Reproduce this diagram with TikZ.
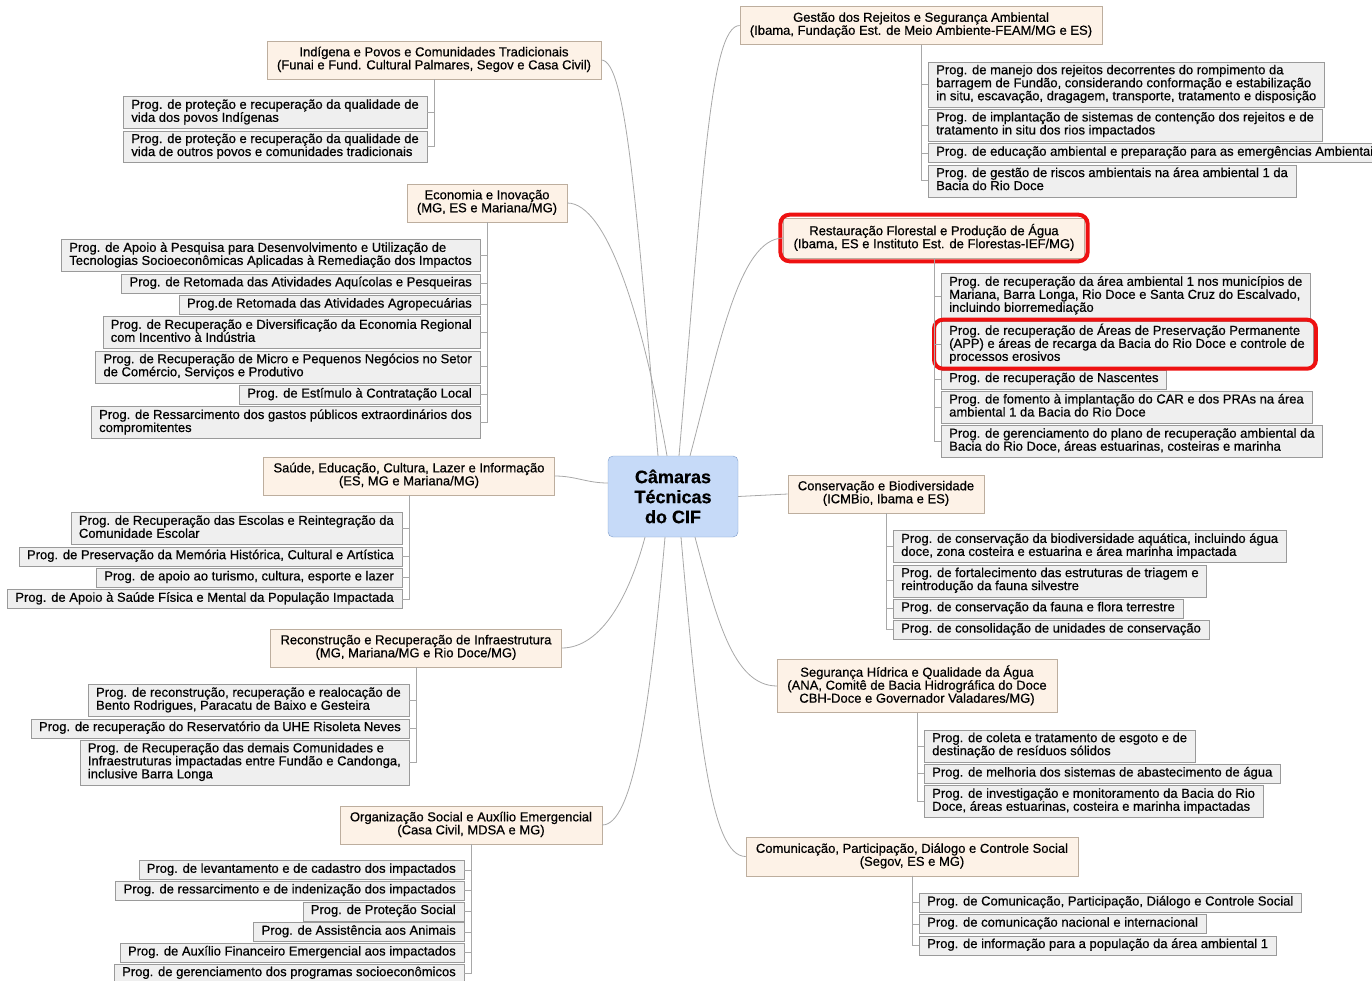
\documentclass[tikz,border=0pt]{standalone}
\usepackage{fontspec}
\setmainfont{Liberation Sans}[FakeBold=0.6]
\usepackage{tikz}
\usetikzlibrary{positioning,fit}

\definecolor{cifblue}{HTML}{C6DAF8}
\definecolor{cifedge}{HTML}{7E9CC9}
\definecolor{catfill}{HTML}{FDF2E7}
\definecolor{catedge}{HTML}{BDAE9E}
\definecolor{leaffill}{HTML}{EFEFEF}
\definecolor{leafedge}{HTML}{9A9A9A}
\definecolor{linkgray}{HTML}{A8A8A8}
\definecolor{markred}{HTML}{EE1111}
\setlength{\lineskiplimit}{-8pt}

\begin{document}
\begin{tikzpicture}[
  x=1pt, y=1pt,
  font=\fontsize{13}{13}\selectfont,
  cif/.style={draw=cifedge, fill=cifblue, rounded corners=5pt, minimum width=130pt,
    minimum height=81pt, align=center, font=\fontsize{18}{20}\selectfont\bfseries},
  cat/.style={draw=catedge, fill=catfill, align=center, inner xsep=10pt, inner ysep=6pt,
    execute at begin node=\strut, execute at end node=\strut},
  leaf/.style={draw=leafedge, fill=leaffill, align=left, inner xsep=8pt, inner ysep=2.75pt,
    execute at begin node=\strut, execute at end node=\strut},
  lfirst/.style={leaf, below=17pt of #1.south, xshift=-7pt, anchor=north east},
  lnext/.style={leaf, below=2pt of #1.south east, anchor=north east},
  rfirst/.style={leaf, below=17pt of #1.south, xshift=7pt, anchor=north west},
  rnext/.style={leaf, below=2pt of #1.south west, anchor=north west},
  link/.style={draw=linkgray, line width=0.8pt},
  branch/.style={draw=linkgray, line width=0.8pt},
  hilite/.style={draw=markred, line width=4pt, rounded corners=9pt, inner sep=3pt}
]
\useasboundingbox (0,0) rectangle (1372,-980);

\node[cif] (cif) at (673,-496.5) {Câmaras\\Técnicas\\do CIF};

\node[cat] (indig) at (434,-60) {Indígena e Povos e Comunidades Tradicionais\\(Funai e Fund. Cultural Palmares, Segov e Casa Civil)};
\node[cat] (econ) at (487,-203) {Economia e Inovação\\(MG, ES e Mariana/MG)};
\node[cat] (saude) at (409,-476) {Saúde, Educação, Cultura, Lazer e Informação\\(ES, MG e Mariana/MG)};
\node[cat] (recon) at (416,-648) {Reconstrução e Recuperação de Infraestrutura\\(MG, Mariana/MG e Rio Doce/MG)};
\node[cat] (org) at (471,-825) {Organização Social e Auxílio Emergencial\\(Casa Civil, MDSA e MG)};
\node[cat] (gestao) at (921,-25.5) {Gestão dos Rejeitos e Segurança Ambiental\\(Ibama, Fundação Est. de Meio Ambiente-FEAM/MG e ES)};
\node[cat] (rest) at (934,-238) {Restauração Florestal e Produção de Água\\(Ibama, ES e Instituto Est. de Florestas-IEF/MG)};
\node[cat] (cons) at (886,-494) {Conservação e Biodiversidade\\(ICMBio, Ibama e ES)};
\node[cat] (seg) at (917,-686) {Segurança Hídrica e Qualidade da Água\\(ANA, Comitê de Bacia Hidrográfica do Doce\\CBH-Doce e Governador Valadares/MG)};
\node[cat] (com) at (912,-856.5) {Comunicação, Participação, Diálogo e Controle Social\\(Segov, ES e MG)};

\node[lfirst=indig] (indig1) {Prog. de proteção e recuperação da qualidade de\\vida dos povos Indígenas};
\node[lnext=indig1] (indig2) {Prog. de proteção e recuperação da qualidade de\\vida de outros povos e comunidades tradicionais};

\node[lfirst=econ] (econ1) {Prog. de Apoio à Pesquisa para Desenvolvimento e Utilização de\\Tecnologias Socioeconômicas Aplicadas à Remediação dos Impactos};
\node[lnext=econ1] (econ2) {Prog. de Retomada das Atividades Aquícolas e Pesqueiras};
\node[lnext=econ2] (econ3) {Prog.de Retomada das Atividades Agropecuárias};
\node[lnext=econ3] (econ4) {Prog. de Recuperação e Diversificação da Economia Regional\\com Incentivo à Indústria};
\node[lnext=econ4] (econ5) {Prog. de Recuperação de Micro e Pequenos Negócios no Setor\\de Comércio, Serviços e Produtivo};
\node[lnext=econ5] (econ6) {Prog. de Estímulo à Contratação Local};
\node[lnext=econ6] (econ7) {Prog. de Ressarcimento dos gastos públicos extraordinários dos\\compromitentes};

\node[lfirst=saude] (saude1) {Prog. de Recuperação das Escolas e Reintegração da\\Comunidade Escolar};
\node[lnext=saude1] (saude2) {Prog. de Preservação da Memória Histórica, Cultural e Artística};
\node[lnext=saude2] (saude3) {Prog. de apoio ao turismo, cultura, esporte e lazer};
\node[lnext=saude3] (saude4) {Prog. de Apoio à Saúde Física e Mental da População Impactada};

\node[lfirst=recon] (recon1) {Prog. de reconstrução, recuperação e realocação de\\Bento Rodrigues, Paracatu de Baixo e Gesteira};
\node[lnext=recon1] (recon2) {Prog. de recuperação do Reservatório da UHE Risoleta Neves};
\node[lnext=recon2] (recon3) {Prog. de Recuperação das demais Comunidades e\\Infraestruturas impactadas entre Fundão e Candonga,\\inclusive Barra Longa};

\node[lfirst=org, yshift=1pt] (org1) {Prog. de levantamento e de cadastro dos impactados};
\node[lnext=org1, yshift=0.6pt] (org2) {Prog. de ressarcimento e de indenização dos impactados};
\node[lnext=org2, yshift=0.6pt] (org3) {Prog. de Proteção Social};
\node[lnext=org3, yshift=0.6pt] (org4) {Prog. de Assistência aos Animais};
\node[lnext=org4, yshift=0.6pt] (org5) {Prog. de Auxílio Financeiro Emergencial aos impactados};
\node[lnext=org5, yshift=0.6pt] (org6) {Prog. de gerenciamento dos programas socioeconômicos};

\node[rfirst=gestao] (gestao1) {Prog. de manejo dos rejeitos decorrentes do rompimento da\\barragem de Fundão, considerando conformação e estabilização\\in situ, escavação, dragagem, transporte, tratamento e disposição};
\node[rnext=gestao1] (gestao2) {Prog. de implantação de sistemas de contenção dos rejeitos e de\\tratamento in situ dos rios impactados};
\node[rnext=gestao2] (gestao3) {Prog. de educação ambiental e preparação para as emergências Ambientais};
\node[rnext=gestao3] (gestao4) {Prog. de gestão de riscos ambientais na área ambiental 1 da\\Bacia do Rio Doce};

\node[rfirst=rest, yshift=2pt] (rest1) {Prog. de recuperação da área ambiental 1 nos municípios de\\Mariana, Barra Longa, Rio Doce e Santa Cruz do Escalvado,\\incluindo biorremediação};
\node[rnext=rest1] (rest2) {Prog. de recuperação de Áreas de Preservação Permanente\\(APP) e áreas de recarga da Bacia do Rio Doce e controle de\\processos erosivos};
\node[rnext=rest2] (rest3) {Prog. de recuperação de Nascentes};
\node[rnext=rest3] (rest4) {Prog. de fomento à implantação do CAR e dos PRAs na área\\ambiental 1 da Bacia do Rio Doce};
\node[rnext=rest4] (rest5) {Prog. de gerenciamento do plano de recuperação ambiental da\\Bacia do Rio Doce, áreas estuarinas, costeiras e marinha};

\node[rfirst=cons] (cons1) {Prog. de conservação da biodiversidade aquática, incluindo água\\doce, zona costeira e estuarina e área marinha impactada};
\node[rnext=cons1] (cons2) {Prog. de fortalecimento das estruturas de triagem e\\reintrodução da fauna silvestre};
\node[rnext=cons2] (cons3) {Prog. de conservação da fauna e flora terrestre};
\node[rnext=cons3] (cons4) {Prog. de consolidação de unidades de conservação};

\node[rfirst=seg] (seg1) {Prog. de coleta e tratamento de esgoto e de\\destinação de resíduos sólidos};
\node[rnext=seg1] (seg2) {Prog. de melhoria dos sistemas de abastecimento de água};
\node[rnext=seg2] (seg3) {Prog. de investigação e monitoramento da Bacia do Rio\\Doce, áreas estuarinas, costeira e marinha impactadas};

\node[rfirst=com] (com1) {Prog. de Comunicação, Participação, Diálogo e Controle Social};
\node[rnext=com1] (com2) {Prog. de comunicação nacional e internacional};
\node[rnext=com2] (com3) {Prog. de informação para a população da área ambiental 1};

\node[hilite, fit=(rest)] (resthl) {};
\node[hilite, fit=(rest2), inner xsep=5pt, inner ysep=1pt, xshift=-2pt] (rest2hl) {};

\draw[link] ([xshift=-15pt]cif.north) to[out=95, in=0, out distance=250pt, in distance=25pt] (indig.east);
\draw[link] ([xshift=-6pt]cif.north) to[out=100, in=0, out distance=140pt, in distance=40pt] (econ.east);
\draw[link] ([xshift=6pt]cif.north) to[out=85, in=180, out distance=270pt, in distance=30pt] (gestao.west);
\draw[link] ([xshift=17pt]cif.north) to[out=75, in=180, out distance=110pt, in distance=45pt] (rest.west);
\draw[link] ([yshift=13.5pt]cif.west) to[out=180, in=0] (saude.east);
\draw[link] (cif.east) -- (cons.west);
\draw[link] ([xshift=-28pt]cif.south) to[out=-105, in=0, out distance=60pt, in distance=40pt] (recon.east);
\draw[link] ([xshift=-8pt]cif.south) to[out=-95, in=0, out distance=180pt, in distance=30pt] (org.east);
\draw[link] ([xshift=8pt]cif.south) to[out=-85, in=180, out distance=200pt, in distance=35pt] (com.west);
\draw[link] ([xshift=22pt]cif.south) to[out=-75, in=180, out distance=80pt, in distance=45pt] (seg.west);

\draw[branch] (indig.south) |- (indig1.east);
\draw[branch] (indig.south) |- (indig2.east);
\draw[branch] (econ.south) |- (econ1.east);
\draw[branch] (econ.south) |- (econ2.east);
\draw[branch] (econ.south) |- (econ3.east);
\draw[branch] (econ.south) |- (econ4.east);
\draw[branch] (econ.south) |- (econ5.east);
\draw[branch] (econ.south) |- (econ6.east);
\draw[branch] (econ.south) |- (econ7.east);
\draw[branch] (saude.south) |- (saude1.east);
\draw[branch] (saude.south) |- (saude2.east);
\draw[branch] (saude.south) |- (saude3.east);
\draw[branch] (saude.south) |- (saude4.east);
\draw[branch] (recon.south) |- (recon1.east);
\draw[branch] (recon.south) |- (recon2.east);
\draw[branch] (recon.south) |- (recon3.east);
\draw[branch] (org.south) |- (org1.east);
\draw[branch] (org.south) |- (org2.east);
\draw[branch] (org.south) |- (org3.east);
\draw[branch] (org.south) |- (org4.east);
\draw[branch] (org.south) |- (org5.east);
\draw[branch] (org.south) |- (org6.east);
\draw[branch] (gestao.south) |- (gestao1.west);
\draw[branch] (gestao.south) |- (gestao2.west);
\draw[branch] (gestao.south) |- (gestao3.west);
\draw[branch] (gestao.south) |- (gestao4.west);
\draw[branch] (rest.south) |- (rest1.west);
\draw[branch] (rest.south) |- (rest2.west);
\draw[branch] (rest.south) |- (rest3.west);
\draw[branch] (rest.south) |- (rest4.west);
\draw[branch] (rest.south) |- (rest5.west);
\draw[branch] (cons.south) |- (cons1.west);
\draw[branch] (cons.south) |- (cons2.west);
\draw[branch] (cons.south) |- (cons3.west);
\draw[branch] (cons.south) |- (cons4.west);
\draw[branch] (seg.south) |- (seg1.west);
\draw[branch] (seg.south) |- (seg2.west);
\draw[branch] (seg.south) |- (seg3.west);
\draw[branch] (com.south) |- (com1.west);
\draw[branch] (com.south) |- (com2.west);
\draw[branch] (com.south) |- (com3.west);
\end{tikzpicture}
\end{document}
